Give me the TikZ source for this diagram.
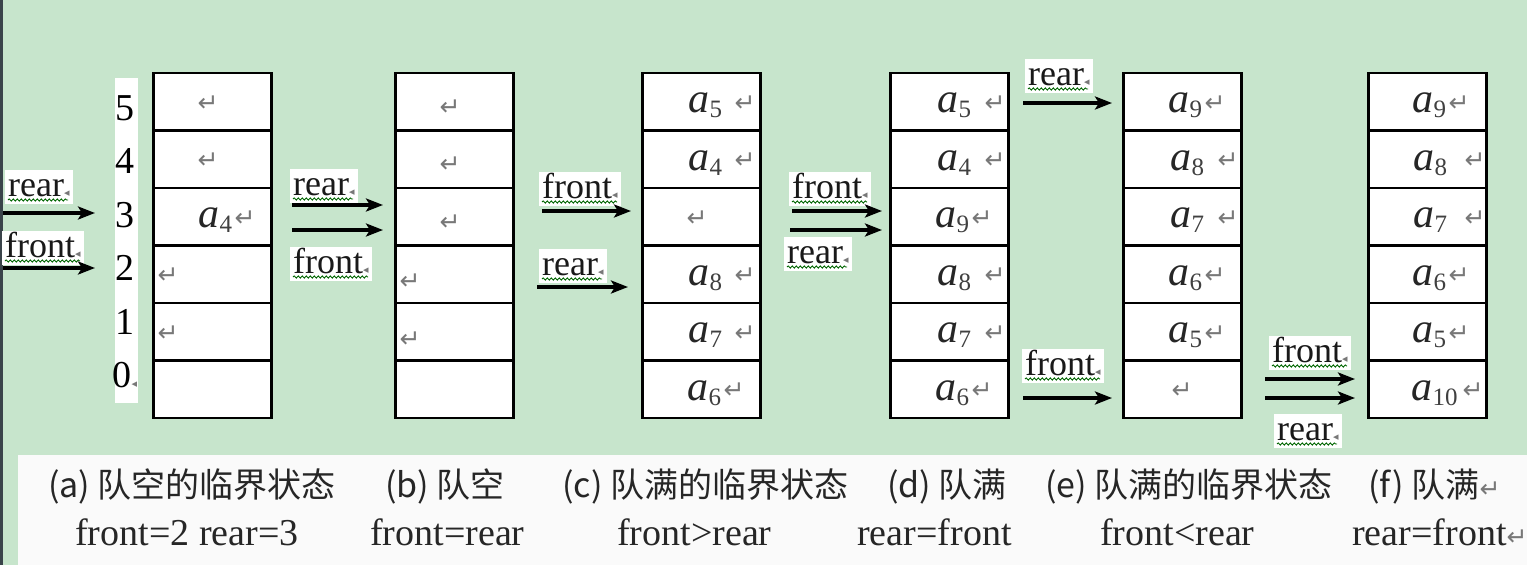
\documentclass[tikz,border=0pt]{standalone}
\usepackage{fontspec}
\setmainfont{Liberation Serif}
\newfontfamily\cjkf{Noto Sans CJK SC}
\newfontfamily\symf{DejaVu Sans}
\usetikzlibrary{arrows.meta,decorations.pathmorphing}
\definecolor{bggreen}{RGB}{199,229,204}
\definecolor{edgedark}{RGB}{58,68,74}
\definecolor{retgray}{RGB}{120,120,120}
\newcommand\retm{{\symf\color{retgray}\fontsize{25}{25}\selectfont ↵}}
\newcommand\pmark{{\symf\color{retgray}\fontsize{11}{11}\selectfont ◂}}
\newcommand\av[1]{\textit{a}\kern0.5pt\raisebox{-5pt}{\fontsize{25}{25}\selectfont\color{black!75}#1}}
\tikzset{
  cellbox/.style={draw=black, line width=2.6pt, fill=white, minimum width=118pt,
    minimum height=57.5pt, inner sep=0pt, anchor=north west},
  aval/.style={font=\fontsize{42}{42}\selectfont, text=black!85, inner sep=0pt, anchor=base west},
  retn/.style={inner sep=0pt},
  arr/.style={line width=3.2pt, -{Stealth[length=17pt,width=13pt,inset=4pt]}},
  lab/.style={font=\fontsize{36}{36}\selectfont, fill=white, text=black!90,
    inner xsep=3pt, inner ysep=0pt, text height=26pt, text depth=8pt, anchor=base west},
  squig/.style={draw=green!40!black, line width=0.9pt, decorate,
    decoration={snake, segment length=4pt, amplitude=1.1pt}},
  numl/.style={font=\fontsize{38}{38}\selectfont, inner sep=0pt},
  capa/.style={font=\cjkf\fontsize{34}{34}\selectfont, text=black!85, inner sep=0pt, anchor=base west},
  capb/.style={font=\fontsize{38}{38}\selectfont, text=black!85, inner sep=0pt, anchor=base west},
}
\begin{document}
\begin{tikzpicture}[x=1pt,y=-1pt]
\useasboundingbox (0,0) rectangle (1527,565);
% backgrounds
\fill[bggreen] (0,0) rectangle (1527,565);
\fill[white!98!black] (18,455) rectangle (1527,565);
\fill[edgedark] (0,0) rectangle (3,565);
\fill[white] (115,78) rectangle (138,403);

% queue boxes
\foreach \p/\L in {qa/152,qb/394,qc/641,qd/889,qe/1122,qf/1367}{
  \foreach \j in {0,...,5}{
    \node[cellbox] (\p\j) at (\L,{71.5+57.5*\j}) {};
  }
}

% index numbers of (a)
\foreach \k/\t in {0/5,1/4,2/3,3/2,4/1}{
  \node[numl] (num\t) at (125,{108+53.4*\k}) {\t};
}
\node[numl] (num0) at (125,375) {0\pmark};

% ---- cell contents ----
% (a)
\node[retn] (ra0) at ([xshift=56pt,yshift=-2pt]qa0.west) {\retm};
\node[retn] (ra1) at ([xshift=56pt,yshift=-2pt]qa1.west) {\retm};
\node[aval] (va2) at ([xshift=46pt,yshift=-11pt]qa2.west) {\av{4}};
\node[retn] (ra2) at ([xshift=93pt,yshift=-2pt]qa2.west) {\retm};
\node[retn] (ra3) at ([xshift=16pt,yshift=-2pt]qa3.west) {\retm};
\node[retn] (ra4) at ([xshift=16pt,yshift=-2pt]qa4.west) {\retm};
% (b)
\node[retn] (rb0) at ([xshift=56pt,yshift=-6pt]qb0.west) {\retm};
\node[retn] (rb1) at ([xshift=56pt,yshift=-6pt]qb1.west) {\retm};
\node[retn] (rb2) at ([xshift=56pt,yshift=-6pt]qb2.west) {\retm};
\node[retn] (rb3) at ([xshift=16pt,yshift=-8pt]qb3.west) {\retm};
\node[retn] (rb4) at ([xshift=16pt,yshift=-8pt]qb4.west) {\retm};
% (c)
\node[aval] (vc0) at ([xshift=47pt,yshift=-11pt]qc0.west) {\av{5}};
\node[retn] (rc0) at ([xshift=104pt,yshift=-2pt]qc0.west) {\retm};
\node[aval] (vc1) at ([xshift=47pt,yshift=-11pt]qc1.west) {\av{4}};
\node[retn] (rc1) at ([xshift=104pt,yshift=-2pt]qc1.west) {\retm};
\node[retn] (rc2) at ([xshift=56pt,yshift=-2pt]qc2.west) {\retm};
\node[aval] (vc3) at ([xshift=47pt,yshift=-11pt]qc3.west) {\av{8}};
\node[retn] (rc3) at ([xshift=104pt,yshift=-2pt]qc3.west) {\retm};
\node[aval] (vc4) at ([xshift=47pt,yshift=-11pt]qc4.west) {\av{7}};
\node[retn] (rc4) at ([xshift=104pt,yshift=-2pt]qc4.west) {\retm};
\node[aval] (vc5) at ([xshift=46pt,yshift=-11pt]qc5.west) {\av{6}};
\node[retn] (rc5) at ([xshift=93pt,yshift=-2pt]qc5.west) {\retm};
% (d)
\node[aval] (vd0) at ([xshift=48pt,yshift=-11pt]qd0.west) {\av{5}};
\node[retn] (rd0) at ([xshift=106pt,yshift=-2pt]qd0.west) {\retm};
\node[aval] (vd1) at ([xshift=48pt,yshift=-11pt]qd1.west) {\av{4}};
\node[retn] (rd1) at ([xshift=106pt,yshift=-2pt]qd1.west) {\retm};
\node[aval] (vd2) at ([xshift=46pt,yshift=-11pt]qd2.west) {\av{9}};
\node[retn] (rd2) at ([xshift=93pt,yshift=-2pt]qd2.west) {\retm};
\node[aval] (vd3) at ([xshift=48pt,yshift=-11pt]qd3.west) {\av{8}};
\node[retn] (rd3) at ([xshift=106pt,yshift=-2pt]qd3.west) {\retm};
\node[aval] (vd4) at ([xshift=48pt,yshift=-11pt]qd4.west) {\av{7}};
\node[retn] (rd4) at ([xshift=106pt,yshift=-2pt]qd4.west) {\retm};
\node[aval] (vd5) at ([xshift=46pt,yshift=-11pt]qd5.west) {\av{6}};
\node[retn] (rd5) at ([xshift=93pt,yshift=-2pt]qd5.west) {\retm};
% (e)
\node[aval] (ve0) at ([xshift=46pt,yshift=-11pt]qe0.west) {\av{9}};
\node[retn] (re0) at ([xshift=93pt,yshift=-2pt]qe0.west) {\retm};
\node[aval] (ve1) at ([xshift=48pt,yshift=-11pt]qe1.west) {\av{8}};
\node[retn] (re1) at ([xshift=106pt,yshift=-2pt]qe1.west) {\retm};
\node[aval] (ve2) at ([xshift=48pt,yshift=-11pt]qe2.west) {\av{7}};
\node[retn] (re2) at ([xshift=106pt,yshift=-2pt]qe2.west) {\retm};
\node[aval] (ve3) at ([xshift=46pt,yshift=-11pt]qe3.west) {\av{6}};
\node[retn] (re3) at ([xshift=93pt,yshift=-2pt]qe3.west) {\retm};
\node[aval] (ve4) at ([xshift=46pt,yshift=-11pt]qe4.west) {\av{5}};
\node[retn] (re4) at ([xshift=93pt,yshift=-2pt]qe4.west) {\retm};
\node[retn] (re5) at ([xshift=60pt,yshift=-2pt]qe5.west) {\retm};
% (f)
\node[aval] (vf0) at ([xshift=45pt,yshift=-11pt]qf0.west) {\av{9}};
\node[retn] (rf0) at ([xshift=92pt,yshift=-2pt]qf0.west) {\retm};
\node[aval] (vf1) at ([xshift=46pt,yshift=-11pt]qf1.west) {\av{8}};
\node[retn] (rf1) at ([xshift=108pt,yshift=-2pt]qf1.west) {\retm};
\node[aval] (vf2) at ([xshift=46pt,yshift=-11pt]qf2.west) {\av{7}};
\node[retn] (rf2) at ([xshift=108pt,yshift=-2pt]qf2.west) {\retm};
\node[aval] (vf3) at ([xshift=45pt,yshift=-11pt]qf3.west) {\av{6}};
\node[retn] (rf3) at ([xshift=92pt,yshift=-2pt]qf3.west) {\retm};
\node[aval] (vf4) at ([xshift=45pt,yshift=-11pt]qf4.west) {\av{5}};
\node[retn] (rf4) at ([xshift=92pt,yshift=-2pt]qf4.west) {\retm};
\node[aval] (vf5) at ([xshift=44pt,yshift=-11pt]qf5.west) {\av{10}};
\node[retn] (rf5) at ([xshift=106pt,yshift=-2pt]qf5.west) {\retm};

% ---- pointer labels ----
\node[lab] (laR) at (5,196)   {rear\pmark};
\node[lab] (laF) at (2,257)   {front\pmark};
\node[lab] (lbR) at (290,195) {rear\pmark};
\node[lab] (lbF) at (290,273) {front\pmark};
\node[lab] (lcF) at (539,198) {front\pmark};
\node[lab] (lcR) at (539,275) {rear\pmark};
\node[lab] (ldF) at (789,198) {front\pmark};
\node[lab] (ldR) at (784,263) {rear\pmark};
\node[lab] (leR) at (1025,85) {rear\pmark};
\node[lab] (leF) at (1022,375) {front\pmark};
\node[lab] (lfF) at (1269,362) {front\pmark};
\node[lab] (lfR) at (1274,440) {rear\pmark};
\foreach \n/\w in {laR/60,laF/75,lbR/60,lbF/75,lcF/75,lcR/60,ldF/75,ldR/60,leR/60,leF/75,lfF/75,lfR/60}{
  \draw[squig] ([xshift=3pt,yshift=-4pt]\n.base west) -- ([xshift={3pt+\w pt},yshift=-4pt]\n.base west);
}

% ---- pointer arrows ----
\coordinate (aR0) at (3,213);    \coordinate (aR1) at (95,213);
\coordinate (aF0) at (3,268);    \coordinate (aF1) at (95,268);
\coordinate (bR0) at (292,205);  \coordinate (bR1) at (383,205);
\coordinate (bF0) at (292,230);  \coordinate (bF1) at (383,230);
\coordinate (cF0) at (542,211);  \coordinate (cF1) at (631,211);
\coordinate (cR0) at (537,287);  \coordinate (cR1) at (628,287);
\coordinate (dF0) at (792,211);  \coordinate (dF1) at (882,211);
\coordinate (dR0) at (790,230);  \coordinate (dR1) at (882,230);
\coordinate (eR0) at (1023,103); \coordinate (eR1) at (1112,103);
\coordinate (eF0) at (1023,398); \coordinate (eF1) at (1112,398);
\coordinate (fF0) at (1265,379); \coordinate (fF1) at (1355,379);
\coordinate (fR0) at (1265,398); \coordinate (fR1) at (1355,398);
\foreach \a in {aR,aF,bR,bF,cF,cR,dF,dR,eR,eF,fF,fR}{
  \draw[arr] (\a0) -- (\a1);
}

% ---- captions ----
\node[capa] (ca1) at (48,497)   {(a) 队空的临界状态};
\node[capa] (cb1) at (385,497)  {(b) 队空};
\node[capa] (cc1) at (562,497)  {(c) 队满的临界状态};
\node[capa] (cd1) at (887,497)  {(d) 队满};
\node[capa] (ce1) at (1045,497) {(e) 队满的临界状态};
\node[capa] (cf1) at (1368,497) {(f) 队满\retm};
\node[capb] (ca2) at (75,545)   {front=2 rear=3};
\node[capb] (cb2) at (370,545)  {front=rear};
\node[capb] (cc2) at (617,545)  {front>rear};
\node[capb] (cd2) at (857,545)  {rear=front};
\node[capb] (ce2) at (1100,545) {front<rear};
\node[capb] (cf2) at (1352,545) {rear=front\retm};
\end{tikzpicture}
\end{document}
